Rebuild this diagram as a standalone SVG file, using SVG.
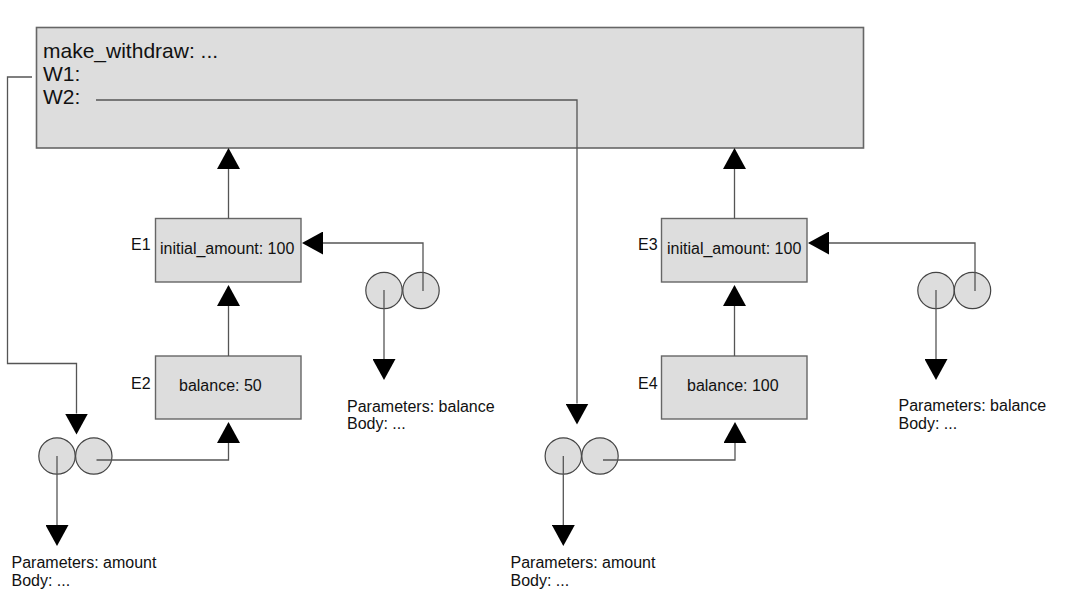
<svg xmlns="http://www.w3.org/2000/svg" width="1074" height="611" viewBox="0 0 1074 611">
<style>
.box{fill:#dddddd;stroke:#666666;stroke-width:1.4}
.frame{fill:#dddddd;stroke:#666666;stroke-width:1.6}
.circ{fill:#dddddd;stroke:#444444;stroke-width:1.2}
.con{fill:none;stroke:#555555;stroke-width:1.3}
text{font-family:"Liberation Sans",Arial,sans-serif;fill:#111111}
.big{font-size:21px}
.t{font-size:16px}
</style>
<defs>
<marker id="ah" viewBox="0 0 21 23" refX="0" refY="11.5" markerWidth="21" markerHeight="23" markerUnits="userSpaceOnUse" orient="auto">
<path d="M0,0 L21,11.5 L0,23 Z" fill="#000000"/>
</marker>
</defs>
<rect width="1074" height="611" fill="#ffffff"/>

<g id="global-frame">
<rect class="frame" x="36.5" y="27.5" width="827" height="120.5"/>
<text class="big" x="43" y="58">make_withdraw: ...</text>
<text class="big" x="43" y="81">W1:</text>
<text class="big" x="43" y="104">W2:</text>
</g>

<g id="E1">
<rect class="box" x="155.5" y="218.5" width="145.5" height="63.5"/>
<text class="t" x="131" y="250">E1</text>
<text class="t" x="160" y="253.5">initial_amount: 100</text>
</g>

<g id="E2">
<rect class="box" x="155.5" y="356" width="145.5" height="63"/>
<text class="t" x="131" y="389">E2</text>
<text class="t" x="179" y="391">balance: 50</text>
</g>

<g id="E3">
<rect class="box" x="661.5" y="218.5" width="145.5" height="63.5"/>
<text class="t" x="638" y="250">E3</text>
<text class="t" x="667" y="253.5">initial_amount: 100</text>
</g>

<g id="E4">
<rect class="box" x="661.5" y="356" width="145.5" height="63"/>
<text class="t" x="638" y="389">E4</text>
<text class="t" x="687" y="391">balance: 100</text>
</g>

<g id="func-balance-1">
<circle class="circ" cx="384" cy="290.5" r="18.2"/>
<circle class="circ" cx="421" cy="290.5" r="18.2"/>
<text class="t" x="347" y="411.5">Parameters: balance</text>
<text class="t" x="347" y="429">Body: ...</text>
</g>

<g id="func-balance-2">
<circle class="circ" cx="936" cy="290.5" r="18.2"/>
<circle class="circ" cx="972.5" cy="290.5" r="18.2"/>
<text class="t" x="898.5" y="411">Parameters: balance</text>
<text class="t" x="898.5" y="428.5">Body: ...</text>
</g>

<g id="func-amount-1">
<circle class="circ" cx="57" cy="456" r="18.2"/>
<circle class="circ" cx="93.8" cy="456" r="18.2"/>
<text class="t" x="11.5" y="568">Parameters: amount</text>
<text class="t" x="11.5" y="586">Body: ...</text>
</g>

<g id="func-amount-2">
<circle class="circ" cx="563.3" cy="456" r="18.2"/>
<circle class="circ" cx="600" cy="456" r="18.2"/>
<text class="t" x="510.5" y="568">Parameters: amount</text>
<text class="t" x="510.5" y="586">Body: ...</text>
</g>

<g id="connectors">
<path class="con" d="M228.5,218.5 V169" marker-end="url(#ah)"/>
<path class="con" d="M228.5,356 V306" marker-end="url(#ah)"/>
<path class="con" d="M423,291 V243 H323" marker-end="url(#ah)"/>
<path class="con" d="M384,290 V359" marker-end="url(#ah)"/>
<path class="con" d="M96.5,460 H228.5 V443" marker-end="url(#ah)"/>
<path class="con" d="M57,456 V525" marker-end="url(#ah)"/>
<path class="con" d="M32,77 H7.5 V363.5 H76.5 V413.5" marker-end="url(#ah)"/>
<path class="con" d="M96,100 H577 V403.5" marker-end="url(#ah)"/>
<path class="con" d="M734.5,218.5 V169" marker-end="url(#ah)"/>
<path class="con" d="M734.5,356 V306" marker-end="url(#ah)"/>
<path class="con" d="M975,291 V243 H829" marker-end="url(#ah)"/>
<path class="con" d="M936,290 V359" marker-end="url(#ah)"/>
<path class="con" d="M603,460 H735 V443" marker-end="url(#ah)"/>
<path class="con" d="M563.3,456 V525" marker-end="url(#ah)"/>
</g>
</svg>
